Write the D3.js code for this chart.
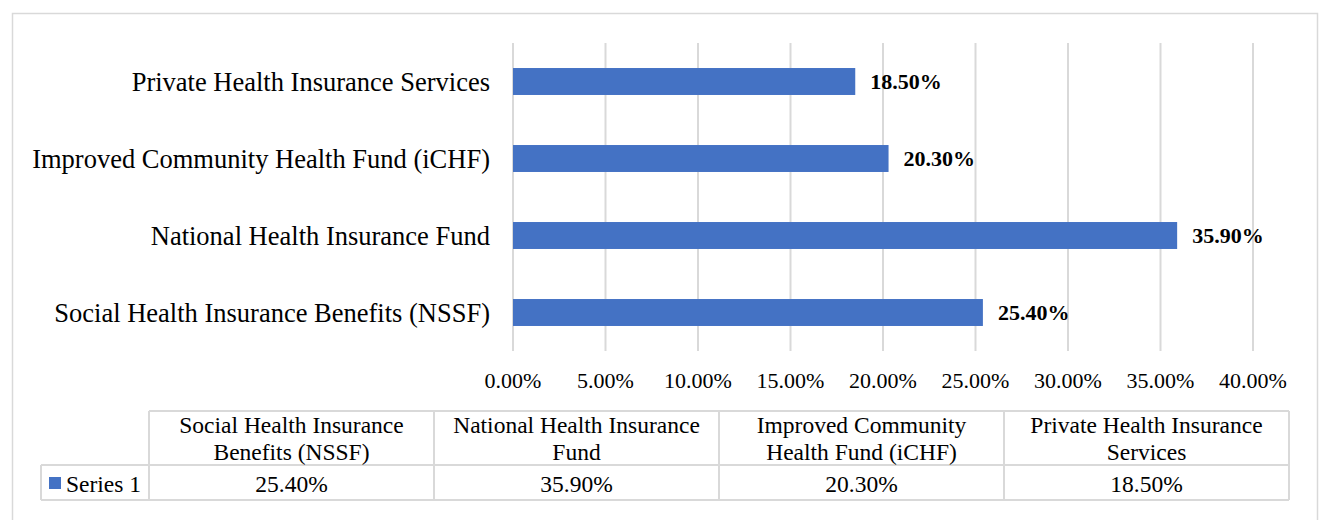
<!DOCTYPE html>
<html>
<head>
<meta charset="utf-8">
<script src="https://cdn.jsdelivr.net/npm/d3@7"></script>
<style>
  body { margin: 0; background: #fff; }
  svg text { font-family: "Liberation Serif", "Times New Roman", serif; fill: #000; }
</style>
</head>
<body>
<div id="chart"></div>
<script>
// categories bottom -> top, as in the table order
var categories = [
  "Social Health Insurance Benefits (NSSF)",
  "National Health Insurance Fund",
  "Improved Community Health Fund (iCHF)",
  "Private Health Insurance Services"
];
var tableHeaders = [
  ["Social Health Insurance", "Benefits (NSSF)"],
  ["National Health Insurance", "Fund"],
  ["Improved Community", "Health Fund (iCHF)"],
  ["Private Health Insurance", "Services"]
];
var seriesName = "Series 1";
var values = [25.4, 35.9, 20.3, 18.5];
var xTicks = [0, 5, 10, 15, 20, 25, 30, 35, 40];

var W = 1321, H = 520;
var barColor = "#4472C4", gridColor = "#d9d9d9";

var svg = d3.select("#chart").append("svg")
  .attr("width", W).attr("height", H);

// outer chart border
svg.append("rect")
  .attr("x", 12.5).attr("y", 13.5)
  .attr("width", 1305).attr("height", 520)
  .attr("fill", "none").attr("stroke", gridColor).attr("stroke-width", 1.5);

var plot = { left: 513, right: 1253, top: 43, bottom: 351 };

var x = d3.scaleLinear().domain([0, 40]).range([plot.left, plot.right]);
var y = d3.scaleBand()
  .domain(categories.slice().reverse())
  .range([plot.top, plot.bottom])
  .paddingInner(0.65).paddingOuter(0.325);

// gridlines
svg.append("g").selectAll("line")
  .data(xTicks).enter().append("line")
  .attr("x1", d => x(d)).attr("x2", d => x(d))
  .attr("y1", plot.top).attr("y2", plot.bottom)
  .attr("stroke", gridColor).attr("stroke-width", 2);

// x tick labels
svg.append("g").selectAll("text")
  .data(xTicks).enter().append("text")
  .attr("x", d => x(d)).attr("y", 388)
  .attr("text-anchor", "middle")
  .style("font-size", "22px")
  .text(d => d.toFixed(2) + "%");

// category labels
svg.append("g").selectAll("text")
  .data(categories).enter().append("text")
  .attr("x", 490)
  .attr("y", d => y(d) + y.bandwidth() / 2)
  .attr("dy", "0.35em")
  .attr("text-anchor", "end")
  .style("font-size", "26.5px")
  .text(d => d);

// bars
svg.append("g").selectAll("rect")
  .data(values).enter().append("rect")
  .attr("x", x(0))
  .attr("y", (d, i) => y(categories[i]))
  .attr("width", d => x(d) - x(0))
  .attr("height", y.bandwidth())
  .attr("fill", barColor);

// data labels
svg.append("g").selectAll("text")
  .data(values).enter().append("text")
  .attr("x", d => x(d) + 15)
  .attr("y", (d, i) => y(categories[i]) + y.bandwidth() / 2)
  .attr("dy", "0.35em")
  .style("font-size", "22px").style("font-weight", "bold")
  .text(d => d.toFixed(2) + "%");

// data table
var tbl = { left: 41, first: 149, right: 1289, top: 411, mid: 465, bottom: 500 };
var col = d3.scaleBand().domain(d3.range(categories.length)).range([tbl.first, tbl.right]);
var t = svg.append("g");

var tl = t.append("g").attr("stroke", gridColor).attr("stroke-width", 2).attr("fill", "none");
tl.append("line").attr("x1", tbl.first).attr("x2", tbl.right).attr("y1", tbl.top).attr("y2", tbl.top);
tl.append("line").attr("x1", tbl.left).attr("x2", tbl.right).attr("y1", tbl.mid).attr("y2", tbl.mid);
tl.append("line").attr("x1", tbl.left).attr("x2", tbl.right).attr("y1", tbl.bottom).attr("y2", tbl.bottom);
tl.append("line").attr("x1", tbl.left).attr("x2", tbl.left).attr("y1", tbl.mid).attr("y2", tbl.bottom);
tl.selectAll(".v").data(d3.range(categories.length + 1)).enter().append("line")
  .attr("x1", d => tbl.first + d * col.step()).attr("x2", d => tbl.first + d * col.step())
  .attr("y1", tbl.top).attr("y2", tbl.bottom);

t.selectAll(".hdr").data(tableHeaders).enter().append("text")
  .attr("x", (d, i) => col(i) + col.bandwidth() / 2)
  .attr("y", 433)
  .attr("text-anchor", "middle")
  .style("font-size", "23.5px")
  .each(function (d) {
    var el = d3.select(this);
    d.forEach(function (line, j) {
      el.append("tspan").attr("x", el.attr("x")).attr("dy", j ? 27 : 0).text(line);
    });
  });

t.selectAll(".val").data(values).enter().append("text")
  .attr("x", (d, i) => col(i) + col.bandwidth() / 2)
  .attr("y", 492)
  .attr("text-anchor", "middle")
  .style("font-size", "23.5px")
  .text(d => d.toFixed(2) + "%");

// legend key in the table
t.append("rect").attr("x", 49).attr("y", 477).attr("width", 12).attr("height", 12).attr("fill", barColor);
t.append("text").attr("x", 66).attr("y", 492).style("font-size", "23.5px").text(seriesName);
</script>
</body>
</html>
